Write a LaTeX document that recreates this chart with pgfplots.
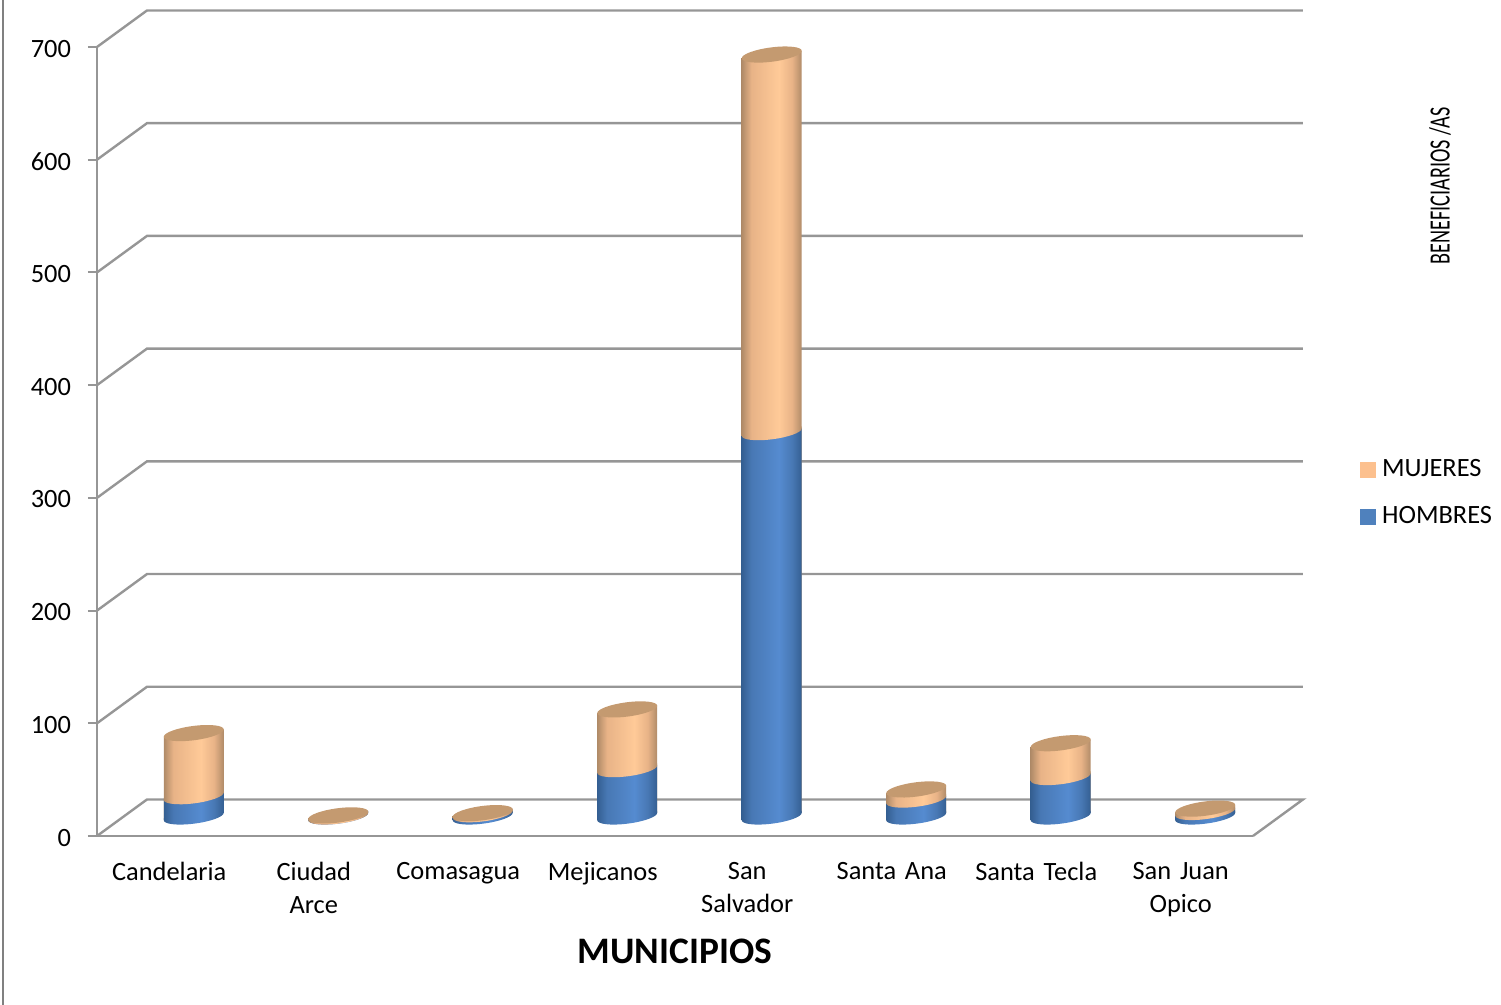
\documentclass[border=0pt]{standalone}
\usepackage{fontspec}
\setmainfont{Carlito}
\usepackage{graphicx}
\usepackage{pgfplots}
\pgfplotsset{compat=1.18}
\definecolor{gridc}{HTML}{969696}
\definecolor{bd}{HTML}{345F92}
\definecolor{bm}{HTML}{4878B4}
\definecolor{bc}{HTML}{558BD0}
\definecolor{od}{HTML}{B08B68}
\definecolor{om}{HTML}{E8B387}
\definecolor{oc}{HTML}{FFCA98}
\definecolor{otop}{HTML}{C49A70}
\definecolor{legO}{HTML}{FCC08E}
\definecolor{legB}{HTML}{4F81BD}
\pgfdeclarehorizontalshading{cylB}{100bp}{color(0bp)=(bd);color(25bp)=(bd);color(33bp)=(bm);color(56bp)=(bc);color(67bp)=(bm);color(75bp)=(bd);color(100bp)=(bd)}
\pgfdeclarehorizontalshading{cylO}{100bp}{color(0bp)=(od);color(25bp)=(od);color(33bp)=(om);color(56bp)=(oc);color(67bp)=(om);color(75bp)=(od);color(100bp)=(od)}
\pgfdeclareplotmark{lowB}{\path[draw=none,shading=cylB] (-15pt,1pt) -- (-15pt,0pt) arc (180:360:15pt and 3.6pt) -- (15pt,1pt) -- cycle;}
\pgfdeclareplotmark{lowO}{\path[draw=none,shading=cylO] (-15pt,1pt) -- (-15pt,0pt) arc (180:360:15pt and 3.6pt) -- (15pt,1pt) -- cycle;}
\pgfdeclareplotmark{topO}{\path[draw=none,fill=otop] (0,0) ellipse (15pt and 3.6pt);}
% x, hombres, hombres+mujeres
\newcommand\cyl[3]{%
  \addplot[ybar,bar width=30pt,bar shift=0pt,draw=none,shading=cylO,yshift={-0.1228*72.25pt*#1},yslant=0.1228] coordinates {(#1,#3)};
  \addplot[ybar,bar width=30pt,bar shift=0pt,draw=none,shading=cylB,yshift={-0.1228*72.25pt*#1},yslant=0.1228] coordinates {(#1,#2)};
  \addplot[only marks,draw=none,mark=lowB,yshift={-0.1228*72.25pt*#1},yslant=0.1228] coordinates {(#1,0)};
  \addplot[only marks,draw=none,mark=lowO,yshift={-0.1228*72.25pt*#1},yslant=0.1228] coordinates {(#1,#2)};
  \addplot[only marks,draw=none,mark=topO,yshift={-0.1228*72.25pt*#1},yslant=0.1228] coordinates {(#1,#3)};
}
\begin{document}
\begin{tikzpicture}
\path[use as bounding box] (0,0) rectangle (750.5pt,502.5pt);
\draw[color=gray,line width=1pt] (1.5pt,0) -- (1.5pt,502.5pt);
\begin{axis}[
  at={(48.5pt,84.5pt)},anchor=south west,
  scale only axis,width=578pt,height=394.5pt,
  xmin=0,xmax=8,ymin=0,ymax=700,clip=false,
  axis lines=left,axis line style={-,color=gridc,line width=1.2pt},
  tick align=outside,
  xtick={0.5,1.5,2.5,3.5,4.5,5.5,6.5,7.5},
  xticklabels={Candelaria,Ciudad\\Arce,Comasagua,Mejicanos,San\\Salvador,Santa Ana,Santa Tecla,San Juan\\Opico},
  minor xtick={0,1,2,3,4,5,6,7,8},
  ytick={0,100,200,300,400,500,600,700},
  major tick length=4.5pt,minor tick length=4.5pt,
  xtick style={draw=none},
  minor tick style={color=gridc,line width=1pt},
  ytick style={color=gridc,line width=1pt},
  /pgf/number format/assume math mode=true,
  tick label style={font=\fontsize{13.2}{16.5}\selectfont,color=black},
  xticklabel style={align=center,text width=70pt,yshift=-5pt},
  yticklabel style={xshift=-5pt,yshift=-0.8pt},
  xlabel={MUNICIPIOS},
  every axis x label/.style={at={(axis description cs:0.5,-0.1458)},anchor=center,font=\fontsize{18.7}{22}\bfseries\selectfont},
  legend style={at={(axis description cs:1.0925,0.4825)},anchor=north west,draw=none,fill=none,
    font=\fontsize{13.2}{15}\selectfont,row sep=9.5pt,inner sep=0pt,legend cell align=left},
]
\addplot[color=gridc,line width=1.2pt,forget plot] coordinates {(0,0) (0.346,32.4) (8.346,32.4) (8,0)};
\addplot[color=gridc,line width=1.2pt,forget plot] coordinates {(0,100) (0.346,132.4) (8.346,132.4)};
\addplot[color=gridc,line width=1.2pt,forget plot] coordinates {(0,200) (0.346,232.4) (8.346,232.4)};
\addplot[color=gridc,line width=1.2pt,forget plot] coordinates {(0,300) (0.346,332.4) (8.346,332.4)};
\addplot[color=gridc,line width=1.2pt,forget plot] coordinates {(0,400) (0.346,432.4) (8.346,432.4)};
\addplot[color=gridc,line width=1.2pt,forget plot] coordinates {(0,500) (0.346,532.4) (8.346,532.4)};
\addplot[color=gridc,line width=1.2pt,forget plot] coordinates {(0,600) (0.346,632.4) (8.346,632.4)};
\addplot[color=gridc,line width=1.2pt,forget plot] coordinates {(0,700) (0.346,732.4) (8.346,732.4)};
\addlegendimage{legend image code/.code={\fill[legO] (0pt,-3.75pt) rectangle (7.5pt,3.75pt);}}
\addlegendentry{\hspace{1pt}MUJERES}
\addlegendimage{legend image code/.code={\fill[legB] (0pt,-3.75pt) rectangle (7.5pt,3.75pt);}}
\addlegendentry{\hspace{1pt}HOMBRES}
\end{axis}
\begin{axis}[
  at={(60.75pt,94.25pt)},anchor=south west,
  scale only axis,width=578pt,height=394.5pt,
  xmin=0,xmax=8,ymin=0,ymax=700,clip=false,hide axis,
]
\cyl{0.5}{18}{74}
\cyl{1.5}{0}{1}
\cyl{2.5}{2}{3}
\cyl{3.5}{42}{95}
\cyl{4.5}{341}{676}
\cyl{5.5}{15}{24}
\cyl{6.5}{35}{65}
\cyl{7.5}{4}{7}
\end{axis}
\node[rotate=90,inner sep=0pt] at (720pt,409.5pt) {\resizebox{78.5pt}{10.2pt}{BENEFICIARIOS /AS}};
\end{tikzpicture}
\end{document}
